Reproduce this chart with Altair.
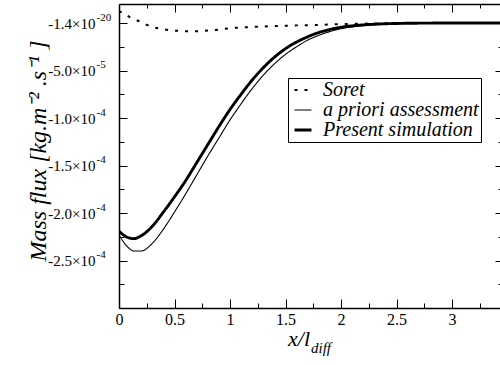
import altair as alt
import pandas as pd

# ---------------- data ----------------
x_sim = [0, 0.05, 0.1, 0.13, 0.2, 0.3, 0.4, 0.5, 0.6, 0.7, 0.8, 0.9, 1.0, 1.1,
         1.2, 1.3, 1.4, 1.5, 1.6, 1.7, 1.8, 1.9, 2.0, 2.2, 2.4, 2.6, 2.8, 3.0, 3.432]
present_sim = [-21.9e-5, -22.4e-5, -22.65e-5, -22.7e-5, -22.4e-5, -21.4e-5, -19.9e-5,
               -18.3e-5, -16.6e-5, -14.7e-5, -12.8e-5, -10.9e-5, -9.1e-5, -7.5e-5,
               -6.0e-5, -4.7e-5, -3.6e-5, -2.7e-5, -2.0e-5, -1.45e-5, -1.0e-5,
               -0.68e-5, -0.45e-5, -0.2e-5, -0.08e-5, -0.03e-5, -0.01e-5, 0.0, 0.0]
a_priori = [-22.3e-5, -23.2e-5, -23.8e-5, -24.0e-5, -24.0e-5, -23.2e-5, -21.7e-5,
            -19.9e-5, -18.0e-5, -16.0e-5, -14.0e-5, -12.1e-5, -10.2e-5, -8.5e-5,
            -6.9e-5, -5.5e-5, -4.3e-5, -3.3e-5, -2.5e-5, -1.8e-5, -1.3e-5,
            -0.9e-5, -0.6e-5, -0.28e-5, -0.12e-5, -0.05e-5, -0.02e-5, 0.0, 0.0]
x_soret = [0, 0.05, 0.1, 0.17, 0.25, 0.35, 0.45, 0.55, 0.65, 0.75, 0.85, 1.0,
           1.2, 1.4, 1.6, 1.8, 2.0, 2.2, 2.4, 2.6, 2.8, 3.0, 3.432]
soret = [1.26e-5, 0.95e-5, 0.6e-5, 0.24e-5, -0.2e-5, -0.56e-5, -0.74e-5, -0.84e-5,
         -0.87e-5, -0.84e-5, -0.75e-5, -0.55e-5, -0.42e-5, -0.33e-5, -0.25e-5,
         -0.2e-5, -0.12e-5, -0.07e-5, -0.03e-5, -0.01e-5, 0.0, 0.0, 0.0]

# legend order
series_names = ["Soret", "a priori assessment", "Present simulation"]

x_major_ticks = [0, 0.5, 1, 1.5, 2, 2.5, 3]
x_tick_labels = ["0", "0.5", "1", "1.5", "2", "2.5", "3"]
x_all_ticks = [0, 0.25, 0.5, 0.75, 1, 1.25, 1.5, 1.75, 2, 2.25, 2.5, 2.75, 3, 3.25]

y_major_ticks = [0, -5e-5, -1e-4, -1.5e-4, -2e-4, -2.5e-4]
y_tick_base = ["-1.4×10", "-5.0×10", "-1.0×10", "-1.5×10", "-2.0×10", "-2.5×10"]
y_tick_exp = ["-20", "-5", "-4", "-4", "-4", "-4"]
y_all_ticks = [0, -2.5e-5, -5e-5, -7.5e-5, -1e-4, -1.25e-4, -1.5e-4, -1.75e-4,
               -2e-4, -2.25e-4, -2.5e-4, -2.75e-4, -3e-4]

y_title = "Mass flux [kg.m⁻² .s⁻¹ ]"
x_title_main = "x/l"
x_title_sub = "diff"

# ---------------- layout / style ----------------
W, H = 381, 304
X_DOMAIN = [0, 3.432]
Y_DOMAIN = [-3e-4, 2e-5]
SERIF = "Liberation Serif"

# style scales: ordered so that stroke widths increase (point scale)
style_domain = ["a priori assessment", "Soret", "Present simulation"]
dash_range = [[1, 0], [3, 7], [1, 0]]
width_range = [1.1, 2.9]

rows = []
for xv, v in zip(x_soret, soret):
    rows.append({"x": xv, "y": v, "series": "Soret"})
for xv, v in zip(x_sim, a_priori):
    rows.append({"x": xv, "y": v, "series": "a priori assessment"})
for xv, v in zip(x_sim, present_sim):
    rows.append({"x": xv, "y": v, "series": "Present simulation"})
df = pd.DataFrame(rows)


def label_expr(values, labels):
    expr = "''"
    for v, lab in reversed(list(zip(values, labels))):
        expr = f"abs(datum.value - ({v!r})) < 1e-9 ? '{lab}' : ({expr})"
    return expr


x_major_test = "abs(datum.value * 2 - round(datum.value * 2)) < 0.001"
y_major_test = "abs(datum.value / 5e-5 - round(datum.value / 5e-5)) < 0.001"

xs = alt.Scale(domain=X_DOMAIN, nice=False, zero=False)
ys = alt.Scale(domain=Y_DOMAIN, nice=False, zero=False)


def tick_axis(orient, offset, values, test, big, small, domain=False):
    return alt.Axis(orient=orient, offset=offset, values=values, labels=False,
                    domain=domain, domainColor="black", domainWidth=1.5,
                    ticks=True, tickColor="black", tickWidth=1,
                    tickSize={"condition": {"test": test, "value": big}, "value": small},
                    grid=False, title=None)


def legend():
    return alt.Legend(orient="none", legendX=169, legendY=74, title=None,
                      values=series_names,
                      labelFont=SERIF, labelFontStyle="italic",
                      labelFontSize=20, labelColor="black",
                      symbolType="stroke", symbolSize=289,
                      symbolStrokeColor="black", strokeColor="black",
                      fillColor="white", padding=2, rowPadding=0,
                      labelOffset=10, symbolOffset=3)


# main lines with label axes (bottom / left)
lines = alt.Chart(df).mark_line(interpolate="monotone", color="black", clip=True).encode(
    x=alt.X("x:Q", scale=xs, axis=alt.Axis(
        orient="bottom", values=x_major_ticks, labelExpr=label_expr(x_major_ticks, x_tick_labels),
        ticks=False, tickSize=0, labelPadding=3, domain=True, domainColor="black", domainWidth=1.5,
        labelFont=SERIF, labelFontSize=16, labelColor="black", labelFlush=False,
        labelOverlap=False, grid=False, title=None)),
    y=alt.Y("y:Q", scale=ys, axis=alt.Axis(
        orient="left", values=y_major_ticks, labelExpr=label_expr(y_major_ticks, y_tick_base),
        ticks=False, tickSize=0, labelPadding=24, domain=True, domainColor="black", domainWidth=1.5,
        labelFont=SERIF, labelFontSize=15, labelColor="black", labelFlush=False,
        labelOverlap=False, grid=False, title=None)),
    strokeDash=alt.StrokeDash("series:N", scale=alt.Scale(domain=style_domain, range=dash_range),
                              legend=legend()),
    strokeWidth=alt.StrokeWidth("series:N", scale=alt.Scale(domain=style_domain, range=width_range),
                                legend=legend()),
)

ghost = alt.Chart(df).mark_point(opacity=0)

# inward ticks on bottom and left edges
ticks_bl = ghost.encode(
    x=alt.X("x:Q", scale=xs, axis=tick_axis("top", -H, x_all_ticks, x_major_test, 9, 5)),
    y=alt.Y("y:Q", scale=ys, axis=tick_axis("right", -W, y_all_ticks, y_major_test, 8, 5)),
)
# inward ticks on top and right edges (+ top frame line)
ticks_tr = ghost.encode(
    x=alt.X("x:Q", scale=xs, axis=tick_axis("bottom", -H, x_all_ticks, x_major_test, 8, 4, domain=True)),
    y=alt.Y("y:Q", scale=ys, axis=tick_axis("left", -W, y_all_ticks, y_major_test, 5, 2)),
)
# superscript exponents of the y tick labels
sup = ghost.encode(
    x=alt.X("x:Q", scale=xs, axis=None),
    y=alt.Y("y:Q", scale=ys, axis=alt.Axis(
        orient="left", values=y_major_ticks, labelExpr=label_expr(y_major_ticks, y_tick_exp),
        ticks=False, tickSize=0, domain=False, labelAlign="left", labelPadding=23,
        labelOffset=-6, labelFont=SERIF, labelFontSize=11, labelColor="black",
        labelFlush=False, labelOverlap=False, grid=False, title=None)),
)

ytitle = alt.Chart(pd.DataFrame({"t": [y_title]})).mark_text(
    angle=270, font=SERIF, fontStyle="italic", fontSize=24, align="center",
    baseline="alphabetic", color="black").encode(
    x=alt.value(-73), y=alt.value(147), text="t:N")
xtitle = alt.Chart(pd.DataFrame({"t": [x_title_main]})).mark_text(
    font=SERIF, fontStyle="italic", fontSize=22, align="right",
    baseline="alphabetic", color="black").encode(
    x=alt.value(191), y=alt.value(342), text="t:N")
xsub = alt.Chart(pd.DataFrame({"t": [x_title_sub]})).mark_text(
    font=SERIF, fontStyle="italic", fontSize=15, align="left",
    baseline="alphabetic", color="black").encode(
    x=alt.value(192), y=alt.value(349), text="t:N")

chart = alt.layer(lines, ticks_bl, ticks_tr, sup, ytitle, xtitle, xsub).resolve_axis(
    x="independent", y="independent"
).properties(
    width=W, height=H,
    autosize=alt.AutoSizeParams(type="none"),
    padding={"left": 119, "top": 4, "right": 0, "bottom": 57},
    background="white",
).configure_view(stroke="transparent")

chart.save("out.html", embed_options={"renderer": "svg", "actions": False})
